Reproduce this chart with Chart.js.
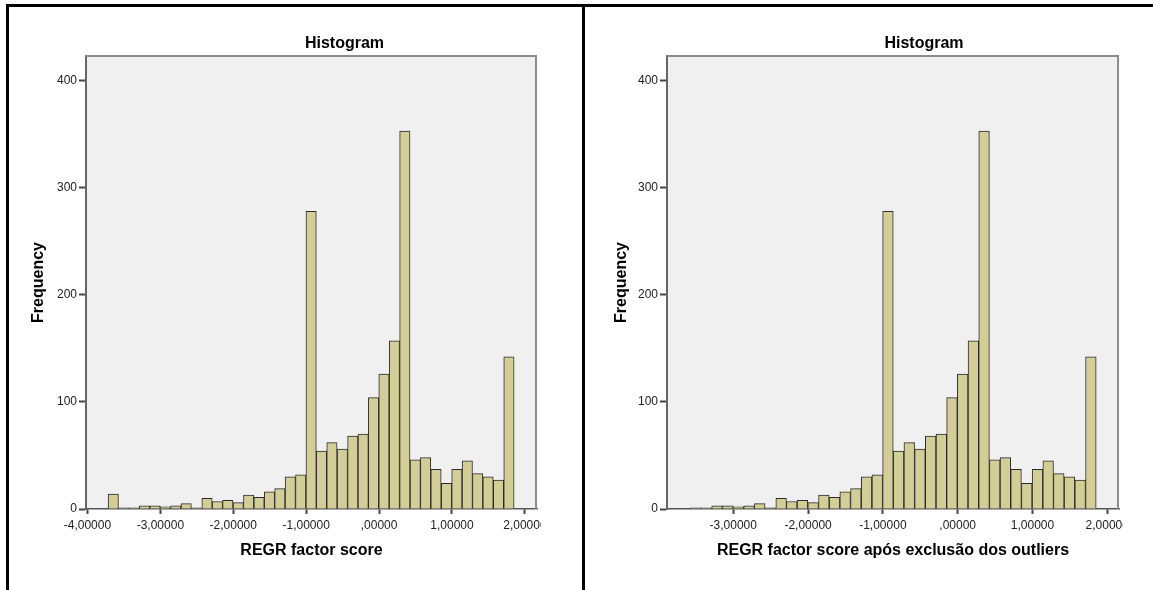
<!DOCTYPE html>
<html>
<head>
<meta charset="utf-8">
<script src="https://cdn.jsdelivr.net/npm/chart.js@4.4.1/dist/chart.umd.min.js"></script>
<style>
    html, body { margin: 0; padding: 0; background: #fff; }
    body { width: 1153px; height: 590px; position: relative; overflow: hidden; }
    .rule { position: absolute; background: #000; }
    .panel { position: absolute; top: 7px; height: 583px; }
</style>
</head>
<body>
<div class="rule" style="left:6px;top:4px;width:1147px;height:3px"></div>
<div class="rule" style="left:6px;top:4px;width:3px;height:586px"></div>
<div class="rule" style="left:582px;top:4px;width:3px;height:586px"></div>
<div class="panel" style="left:9px;width:573px"><canvas id="hist-left"></canvas></div>
<div class="panel" style="left:585px;width:568px"><canvas id="hist-right"></canvas></div>

<script>
/* ── data ── */

// bin centres (bin width ~0.1428)
const binCenters = [
    -3.646, -3.503, -3.360, -3.217, -3.074, -2.932, -2.789, -2.646, -2.503, -2.360,
    -2.218, -2.075, -1.932, -1.789, -1.646, -1.504, -1.361, -1.218, -1.075, -0.932,
    -0.790, -0.647, -0.504, -0.361, -0.218, -0.076, 0.067, 0.210, 0.353, 0.496,
    0.638, 0.781, 0.924, 1.067, 1.210, 1.352, 1.495, 1.638, 1.781,
];
const countsAll = [
    14, 1, 1, 3, 3, 2, 3, 5, 1, 10,
    7, 8, 6, 13, 11, 16, 19, 30, 32, 278,
    54, 62, 56, 68, 70, 104, 126, 157, 353, 46,
    48, 37, 24, 37, 45, 33, 30, 27, 142,
];

// after removing the outliers (first bin gone)
const binCentersTrimmed = [
    -3.503, -3.360, -3.217, -3.074, -2.932, -2.789, -2.646, -2.503, -2.360,
    -2.218, -2.075, -1.932, -1.789, -1.646, -1.504, -1.361, -1.218, -1.075, -0.932,
    -0.790, -0.647, -0.504, -0.361, -0.218, -0.076, 0.067, 0.210, 0.353, 0.496,
    0.638, 0.781, 0.924, 1.067, 1.210, 1.352, 1.495, 1.638, 1.781,
];
const countsTrimmed = [
    1, 1, 3, 3, 2, 3, 5, 1, 10,
    7, 8, 6, 13, 11, 16, 19, 30, 32, 278,
    54, 62, 56, 68, 70, 104, 126, 157, 353, 46,
    48, 37, 24, 37, 45, 33, 30, 27, 142,
];

const yTicks = [0, 100, 200, 300, 400];
const xTicksLeft = [-4, -3, -2, -1, 0, 1, 2];
const xTicksRight = [-3, -2, -1, 0, 1, 2];

/* ── styling ── */

Chart.defaults.font.family = '"Liberation Sans", Arial, sans-serif';

const tickFont = { size: 12 };
const axisTitleFont = { size: 16, weight: 'bold' };

// SPSS style number: -3,00000 / ,00000
const fmtX = v => (v === 0 ? ',00000' : v.toFixed(5).replace('.', ','));

// grey plot background, frame on top/right, clipped tick labels and the title
const plotFrame = {
    id: 'plotFrame',
    beforeDraw(chart) {
        const { ctx, chartArea: a } = chart;
        ctx.save();
        ctx.fillStyle = '#f0f0f0';
        ctx.fillRect(a.left, a.top, a.right - a.left, a.bottom - a.top);
        // SPSS cuts the last tick label at the plot edge
        ctx.beginPath();
        ctx.rect(0, 0, a.right + 4, chart.height);
        ctx.clip();
    },
    afterDraw(chart, args, opts) {
        const { ctx, chartArea: a } = chart;
        ctx.restore();
        ctx.save();
        ctx.strokeStyle = '#8c8c8c';
        ctx.lineWidth = 2;
        ctx.beginPath();
        ctx.moveTo(a.left, a.top);
        ctx.lineTo(a.right - 1, a.top);
        ctx.lineTo(a.right - 1, a.bottom);
        ctx.stroke();

        ctx.fillStyle = '#000';
        ctx.font = 'bold 16px "Liberation Sans", Arial, sans-serif';
        ctx.textAlign = 'center';
        ctx.textBaseline = 'middle';
        ctx.fillText(opts.text, (a.left + a.right) / 2 + opts.dx, opts.y);
        ctx.restore();
    },
};

function makeHistogram(id, centers, counts, opt) {
    return new Chart(document.getElementById(id), {
        type: 'bar',
        data: {
            datasets: [{
                data: centers.map((x, i) => ({ x, y: counts[i] })),
                backgroundColor: '#d3ce97',
                borderColor: '#2b2b2b',
                borderWidth: 1,
                barPercentage: 1,
                categoryPercentage: 1,
            }],
        },
        options: {
            responsive: true,
            maintainAspectRatio: false,
            animation: false,
            layout: { padding: { top: 49, right: opt.padRight, left: 0, bottom: 0 } },
            scales: {
                x: {
                    type: 'linear',
                    min: opt.xMin,
                    max: opt.xMax,
                    offset: false,
                    afterBuildTicks: s => { s.ticks = opt.xTicks.map(value => ({ value })); },
                    afterFit: s => { s.height = 81; },
                    ticks: { font: tickFont, color: '#222', padding: 4, autoSkip: false, maxRotation: 0, callback: fmtX },
                    grid: { offset: false, drawOnChartArea: false, drawTicks: true, tickLength: 5, tickColor: '#444', tickWidth: 2 },
                    border: { display: true, color: '#555', width: 1.5 },
                    title: { display: true, text: opt.xTitle, font: axisTitleFont, color: '#000', padding: { top: 0, bottom: 29.5 } },
                },
                y: {
                    min: 0,
                    max: 423,
                    afterBuildTicks: s => { s.ticks = yTicks.map(value => ({ value })); },
                    afterFit: s => { s.width = opt.yWidth; },
                    ticks: { font: tickFont, color: '#222', padding: 2 },
                    grid: { drawOnChartArea: false, drawTicks: true, tickLength: 7, tickColor: '#444', tickWidth: 2 },
                    border: { display: true, color: '#666', width: 2 },
                    title: { display: true, text: 'Frequency', font: axisTitleFont, color: '#000', padding: { top: opt.yTitlePad, bottom: 0 } },
                },
            },
            plugins: {
                legend: { display: false },
                tooltip: { enabled: false },
                plotFrame: { text: 'Histogram', dx: opt.titleDx, y: 37 },
            },
        },
        plugins: [plotFrame],
    });
}

makeHistogram('hist-left', binCenters, countsAll, {
    xMin: -4.02, xMax: 2.166, xTicks: xTicksLeft,
    xTitle: 'REGR factor score',
    padRight: 45, yWidth: 77, yTitlePad: 20, titleDx: 33,
});

makeHistogram('hist-right', binCentersTrimmed, countsTrimmed, {
    xMin: -3.886, xMax: 2.157, xTicks: xTicksRight,
    xTitle: 'REGR factor score após exclusão dos outliers',
    padRight: 34, yWidth: 82, yTitlePad: 26.5, titleDx: 31,
});
</script>
</body>
</html>
